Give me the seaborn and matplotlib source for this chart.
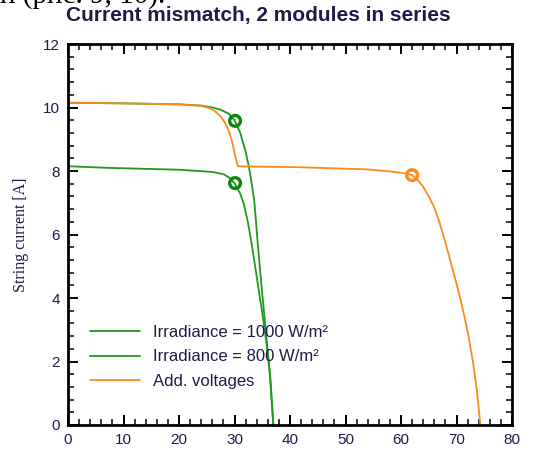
import matplotlib
matplotlib.use("Agg")
import matplotlib.pyplot as plt
import seaborn as sns
import pandas as pd
from matplotlib.ticker import MultipleLocator

# module at 1000 W/m2
v_1000 = [0, 10, 20, 24, 26, 27.5, 29, 30, 31, 32, 32.6, 33.2, 33.6, 34.1, 34.6, 35.1, 35.7, 36.3, 37.0]
i_1000 = [10.15, 10.13, 10.1, 10.06, 10.0, 9.93, 9.8, 9.6, 9.22, 8.62, 8.13, 7.5, 7.0, 5.9, 4.9, 3.95, 2.85, 1.75, 0.0]

# module at 800 W/m2
v_800 = [0, 7, 20, 26, 28, 29, 30, 31, 31.7, 32.4, 33.1, 33.8, 34.5, 35.2, 35.9, 36.5, 37.0]
i_800 = [8.15, 8.1, 8.04, 7.97, 7.9, 7.8, 7.62, 7.3, 6.95, 6.4, 5.7, 4.9, 4.1, 3.3, 2.4, 1.4, 0.0]

# string (added voltages)
v_sum = [0, 10, 20, 24, 25.5, 26.5, 27.5, 28.3, 29, 29.6, 30.1, 30.6, 41.5, 54, 58.4, 61, 62,
         63, 64, 65, 66, 67, 68, 69, 70, 71, 72, 73, 73.7, 74.3]
i_sum = [10.15, 10.13, 10.1, 10.05, 9.98, 9.88, 9.72, 9.52, 9.25, 8.9, 8.5, 8.15, 8.12, 8.05, 7.98, 7.92, 7.87,
         7.72, 7.5, 7.2, 6.85, 6.35, 5.75, 5.1, 4.45, 3.75, 2.95, 1.95, 1.05, 0.0]

# operating points
mpp_v = [30.1, 30.1, 62.0]
mpp_i = [9.58, 7.62, 7.87]

labels = ["Irradiance = 1000 W/m²", "Irradiance = 800 W/m²", "Add. voltages"]

green = "#1e9a1e"
orange = "#ff8a1c"
txt = "#1c1c4a"

sns.set_style("ticks")
plt.rcParams['font.family'] = ['Liberation Sans', 'DejaVu Sans']

fig = plt.figure(figsize=(5.33, 4.57), dpi=100)
ax = fig.add_axes([68/533, 32/457, 444/533, 381/457])

curves = [(v_1000, i_1000, green), (v_800, i_800, green), (v_sum, i_sum, orange)]
for (v, i, c), lab in zip(curves, labels):
    df = pd.DataFrame({"V": v, "I": i})
    sns.lineplot(data=df, x="V", y="I", ax=ax, color=c, lw=1.3, sort=False,
                 estimator=None, label=lab)

pts = pd.DataFrame({"V": mpp_v, "I": mpp_i, "c": ["g", "g", "o"]})
sns.scatterplot(data=pts, x="V", y="I", hue="c", palette={"g": "#0b860b", "o": orange},
                ax=ax, s=60, facecolor="none", linewidth=2.4, legend=False, zorder=5)
for coll in ax.collections:
    coll.set_facecolor("none")
    coll.set_edgecolor(["#0b860b", "#0b860b", orange])

ax.set_xlim(0, 80)
ax.set_ylim(0, 12)
ax.xaxis.set_major_locator(MultipleLocator(10))
ax.xaxis.set_minor_locator(MultipleLocator(2))
ax.yaxis.set_major_locator(MultipleLocator(2))
ax.yaxis.set_minor_locator(MultipleLocator(0.4))
ax.tick_params(which="both", direction="in", top=True, right=True, colors="black",
               labelcolor=txt, labelsize=11)
ax.tick_params(which="major", length=7, width=1.4, pad=6)
ax.tick_params(which="minor", length=4, width=1.1)
for s in ax.spines.values():
    s.set_linewidth(2.0)
    s.set_color("black")

ax.set_xlabel("")
ax.set_ylabel("String current [A]", family=["Liberation Serif"], fontsize=11.5, color=txt, labelpad=10)

leg = ax.legend(loc="lower left", bbox_to_anchor=(0.015, 0.055), frameon=False, fontsize=12,
                handlelength=3.0, handletextpad=0.8, labelspacing=0.58)
for t in leg.get_texts():
    t.set_color(txt)

fig.text(258/533, 1 - 16/457, "Current mismatch, 2 modules in series", ha="center", va="center",
         fontsize=15, fontweight="bold", color=txt)
fig.text(0.0, 1 - 3/457, "н (рис. 9, 10).", ha="left", va="baseline", fontsize=21,
         family=["Liberation Serif"], color="black")

fig.savefig("out.png", dpi=100)
